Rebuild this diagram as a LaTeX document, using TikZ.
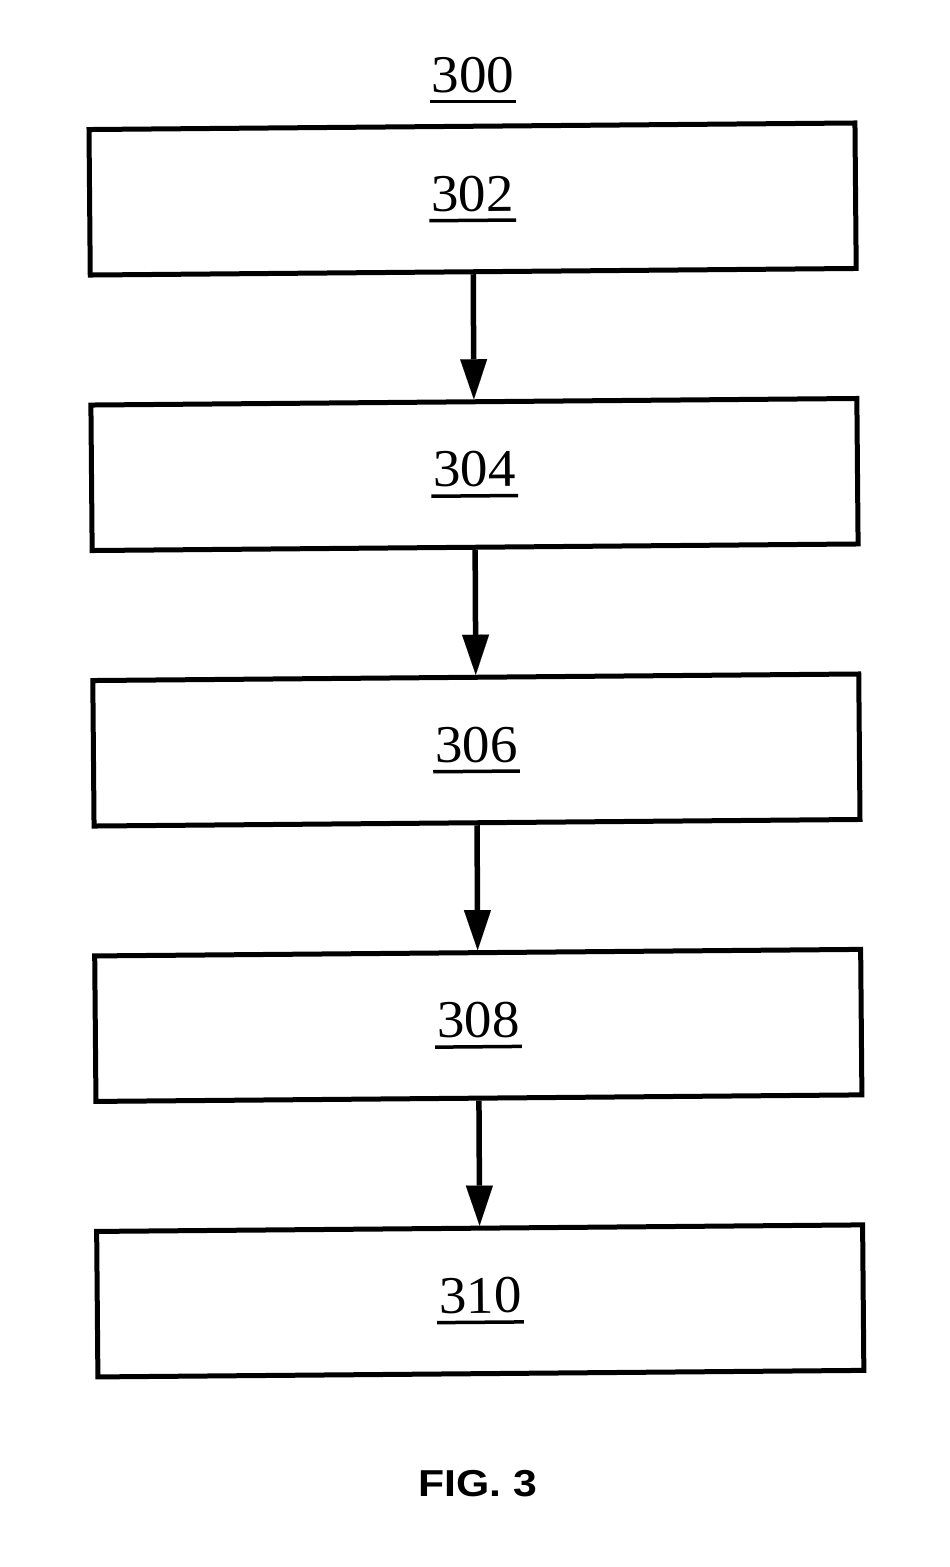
\documentclass[tikz,border=0pt]{standalone}
\usepackage{fontspec}
\setmainfont{Liberation Serif}
\newfontfamily\figfont{Liberation Sans}
\usetikzlibrary{arrows.meta}
\newcommand\ulnum[1]{\setbox0=\hbox{\scalebox{1.04}[1]{\fontsize{53}{57}\selectfont #1}}\rlap{\kern-2pt\rule[-11pt]{\dimexpr\wd0+4pt\relax}{3.5pt}}\box0}
\begin{document}
\begin{tikzpicture}[x=1pt,y=-1pt,
  box/.style={draw, line width=5pt, minimum width=766pt, minimum height=145.5pt, rotate=0.49, inner sep=0pt},
  flow/.style={-{Triangle[length=40pt,width=27pt,line width=0.01pt]}, line width=5.5pt},
  lbl/.style={inner sep=0pt}]
\useasboundingbox (0,0) rectangle (950,1567);
\node[lbl, anchor=base] (t300) at (473,92) {\ulnum{300}};
\node[box] (b1) at (472.6,199) {\ulnum{302}};
\node[box] (b2) at (474.5,474.5) {\ulnum{304}};
\node[box] (b3) at (476.4,750) {\ulnum{306}};
\node[box] (b4) at (478.3,1025.4) {\ulnum{308}};
\node[box] (b5) at (480.25,1300.9) {\ulnum{310}};
\draw[flow] (b1.south) -- (b2.north);
\draw[flow] (b2.south) -- (b3.north);
\draw[flow] (b3.south) -- (b4.north);
\draw[flow] (b4.south) -- (b5.north);
\node[lbl] (fig) at (478,1484) {\scalebox{1.14}[1]{\figfont\bfseries\fontsize{37.5}{41}\selectfont FIG. 3}};
\end{tikzpicture}
\end{document}
